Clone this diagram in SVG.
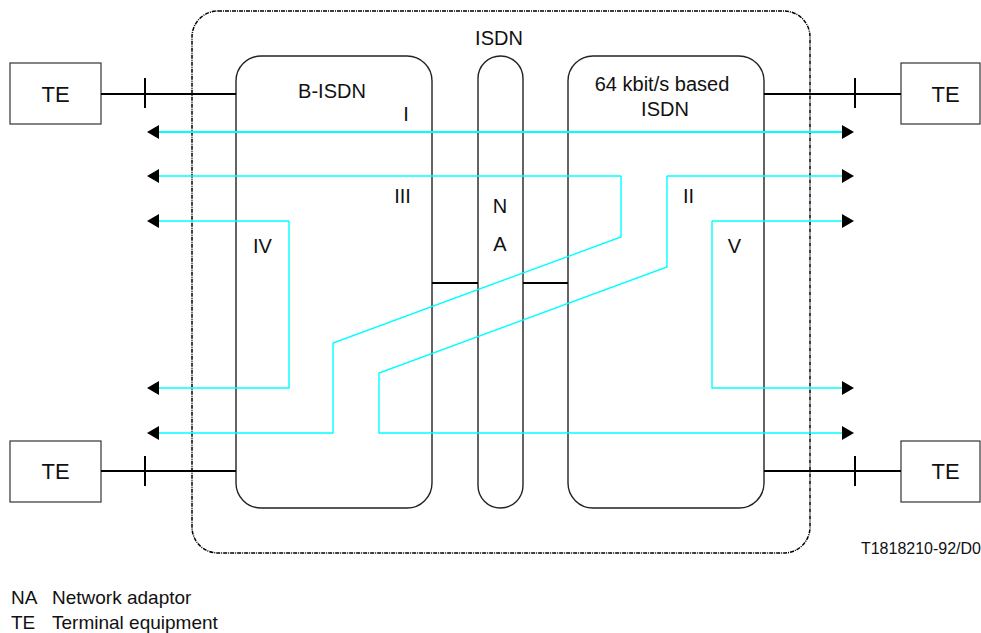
<svg xmlns="http://www.w3.org/2000/svg" width="981" height="633" viewBox="0 0 981 633">
  <style>
    text { font-family: "Liberation Sans", Arial, sans-serif; font-size: 20px; fill: #111; }
    .mid { text-anchor: middle; }
    .te-label { font-size: 22px; }
    .legend { font-size: 19px; }
    .box { fill: none; stroke: #222; stroke-width: 1.4; }
    .te { fill: #fff; stroke: #333; stroke-width: 1.2; }
    .wire { fill: none; stroke: #000; stroke-width: 2; }
    .link { fill: none; stroke: #000; stroke-width: 2; }
    .path { fill: none; stroke: #00ffff; stroke-width: 1.4; }
    .path.main { stroke-width: 2; }
    .outer { fill: none; stroke: #000; stroke-width: 1.5; stroke-dasharray: 4 1 1 1; }
  </style>
  <defs>
    <marker id="arrow" viewBox="0 0 12 14" refX="0" refY="7" markerWidth="12" markerHeight="14" markerUnits="userSpaceOnUse" orient="auto-start-reverse">
      <path d="M0,0 L12,7 L0,14 Z" fill="#000"/>
    </marker>
  </defs>

  <!-- ISDN boundary -->
  <g id="isdn">
    <rect class="outer" x="192" y="11" width="618" height="542" rx="26" ry="26"/>
    <text class="mid" x="499" y="45">ISDN</text>
  </g>

  <!-- Broadband network -->
  <g id="b-isdn">
    <rect class="box" x="236" y="56" width="196" height="452" rx="25" ry="25"/>
    <text class="mid" x="332" y="97.5">B-ISDN</text>
  </g>

  <!-- Network adaptor -->
  <g id="na">
    <rect class="box" x="478" y="56" width="45" height="452" rx="22.5" ry="22.5"/>
    <text class="mid" x="500" y="213">N</text>
    <text class="mid" x="500" y="251">A</text>
  </g>

  <!-- 64 kbit/s network -->
  <g id="isdn-64">
    <rect class="box" x="568" y="56" width="196" height="452" rx="25" ry="25"/>
    <text class="mid" x="662" y="91">64 kbit/s based</text>
    <text class="mid" x="665" y="115.5">ISDN</text>
  </g>

  <!-- Terminals -->
  <g id="te-top-left">
    <rect class="te" x="10" y="63" width="91" height="61"/>
    <text class="mid te-label" x="55.5" y="101.5">TE</text>
  </g>
  <g id="te-bottom-left">
    <rect class="te" x="10" y="441" width="91" height="61"/>
    <text class="mid te-label" x="55.5" y="479">TE</text>
  </g>
  <g id="te-top-right">
    <rect class="te" x="901" y="63" width="79" height="61"/>
    <text class="mid te-label" x="945.5" y="101.5">TE</text>
  </g>
  <g id="te-bottom-right">
    <rect class="te" x="901" y="441" width="79" height="61"/>
    <text class="mid te-label" x="945.5" y="479">TE</text>
  </g>

  <!-- Connectors -->
  <g id="connectors">
    <!-- access lines with reference point ticks -->
    <path class="wire" d="M101,94 H236 M145,78 V108"/>
    <path class="wire" d="M101,471 H236 M145,456 V486"/>
    <path class="wire" d="M764,94 H901 M855,78 V108"/>
    <path class="wire" d="M764,471 H901 M855,456 V486"/>
    <!-- interworking links through the adaptor -->
    <path class="link" d="M432,283 H478 M523,283 H568"/>

    <!-- I -->
    <path class="path main" d="M159,132 H842" marker-start="url(#arrow)" marker-end="url(#arrow)"/>
    <!-- III -->
    <path class="path" d="M621,176 H159" marker-end="url(#arrow)"/>
    <path class="path" d="M621,176 V237 L333,343 V433 H159" marker-end="url(#arrow)"/>
    <!-- II -->
    <path class="path" d="M667,176 H842" marker-end="url(#arrow)"/>
    <path class="path" d="M667,176 V267 L379,373 V433 H842" marker-end="url(#arrow)"/>
    <!-- IV -->
    <path class="path" d="M289,221 H159" marker-end="url(#arrow)"/>
    <path class="path" d="M289,221 V388 H159" marker-end="url(#arrow)"/>
    <!-- V -->
    <path class="path" d="M712,221 H842" marker-end="url(#arrow)"/>
    <path class="path" d="M712,221 V388 H842" marker-end="url(#arrow)"/>
  </g>

  <!-- Path labels -->
  <g id="labels">
    <text class="mid" x="406" y="120.5">I</text>
    <text class="mid" x="688.5" y="202.5">II</text>
    <text class="mid" x="402.5" y="202.5">III</text>
    <text class="mid" x="262.5" y="252.5">IV</text>
    <text class="mid" x="734.5" y="253">V</text>
  </g>

  <!-- Figure number and legend -->
  <text x="981" y="553.5" text-anchor="end" style="font-size:16px">T1818210-92/D0</text>
  <text class="legend" x="11" y="603.5">NA</text>
  <text class="legend" x="52" y="603.5">Network adaptor</text>
  <text class="legend" x="11" y="628.5">TE</text>
  <text class="legend" x="52" y="628.5">Terminal equipment</text>
</svg>
